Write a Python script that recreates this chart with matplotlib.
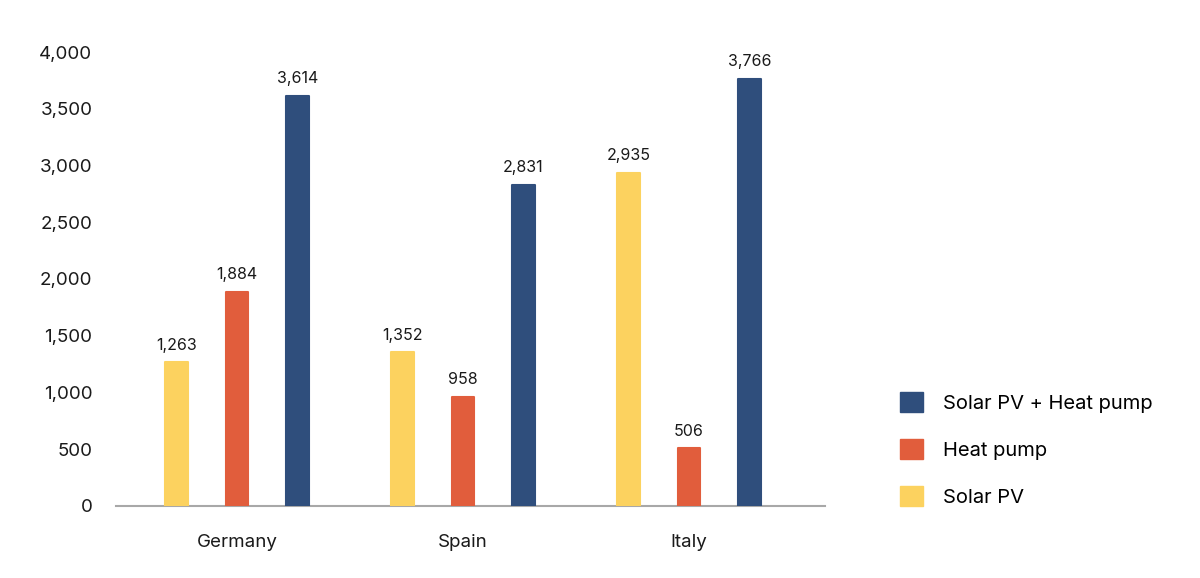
import numpy as np
import matplotlib

matplotlib.use("Agg")
import matplotlib.pyplot as plt
from matplotlib.patches import Patch

countries = ["Germany", "Spain", "Italy"]
series_names = ["Solar PV", "Heat pump", "Solar PV + Heat pump"]
solar_pv = [1263, 1352, 2935]
heat_pump = [1884, 958, 506]
solar_heat = [3614, 2831, 3766]
yticks = [0, 500, 1000, 1500, 2000, 2500, 3000, 3500, 4000]

colors = ["#FCD25F", "#E15D3C", "#2F4E7C"]

plt.rcParams.update({
    "font.family": ["Inter", "DejaVu Sans"],
    "font.size": 13,
})

fig = plt.figure(figsize=(12, 5.78), dpi=100)
ax = fig.add_axes([0.0967, 0.125, 0.5908, 0.785])

x = np.arange(len(countries))
offset = 0.268
width = 0.1
for i, (vals, col) in enumerate(zip([solar_pv, heat_pump, solar_heat], colors)):
    pos = x + (i - 1) * offset
    bars = ax.bar(pos, vals, width=width, color=col, edgecolor=col,
                  linewidth=1.5, joinstyle="round", zorder=3)
    for b, v in zip(bars, vals):
        ax.annotate(f"{v:,}", (b.get_x() + b.get_width() / 2, v),
                    xytext=(0, 7), textcoords="offset points",
                    ha="center", va="bottom", fontsize=11.5, color="#1a1a1a")

ax.set_xlim(-0.535, 2.602)
ax.set_ylim(0, 4000)
ax.set_yticks(yticks)
ax.set_yticklabels([f"{t:,}" for t in yticks], fontsize=13.5, color="#1a1a1a")
ax.set_xticks(x)
ax.set_xticklabels(countries, fontsize=13.5, color="#1a1a1a")
ax.tick_params(axis="y", length=0, pad=17)
ax.tick_params(axis="x", length=0, pad=20)
for s in ["top", "right", "left"]:
    ax.spines[s].set_visible(False)
ax.spines["bottom"].set_color("#a8a8a8")
ax.spines["bottom"].set_linewidth(1.5)

handles = [Patch(facecolor=c, edgecolor=c, joinstyle="round") for c in colors]
fig.legend(handles[::-1], series_names[::-1], loc="upper left",
           bbox_to_anchor=(0.75, 0.322), frameon=False, fontsize=14.5,
           handlelength=1.15, handleheight=1.15, labelspacing=1.3,
           handletextpad=1.0, borderaxespad=0, borderpad=0)

plt.savefig("out.png", dpi=100)
plt.close()
